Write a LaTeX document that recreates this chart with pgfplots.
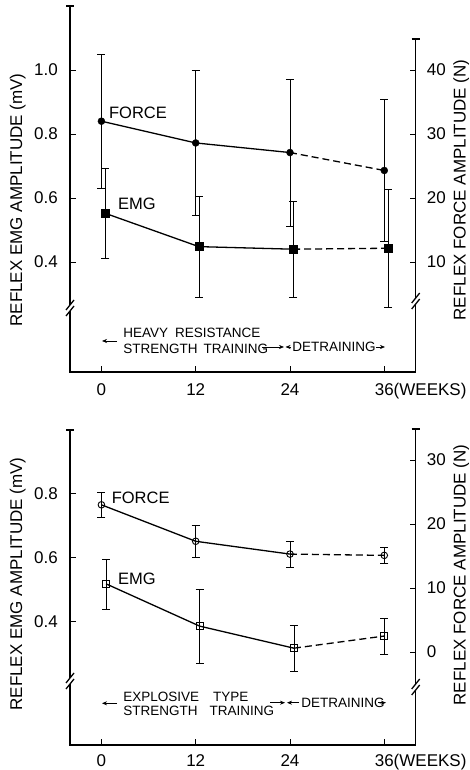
\documentclass[border=0pt]{standalone}
\usepackage{fontspec}
\setmainfont{Liberation Sans}
\usepackage{pgfplots}
\usepackage{pgfplotstable}
\pgfplotsset{compat=1.18}
\usetikzlibrary{arrows.meta}

% top: heavy resistance training
\pgfplotstableread{
wk   val   err
0    32.0  10.5
12   28.6  11.3
24   27.1  11.5
36   24.3  11.1
}\topforce
\pgfplotstableread{
wk   val    err
0.5  0.552  0.140
12.4 0.448  0.157
24.4 0.440  0.150
36.5 0.443  0.185
}\topemg
% bottom: explosive type training
\pgfplotstableread{
wk   val   err
0    23.0  2.0
12   17.3  2.5
24   15.3  2.0
36   15.1  1.3
}\botforce
\pgfplotstableread{
wk   val    err
0.6  0.517  0.078
12.5 0.385  0.116
24.5 0.316  0.073
36   0.354  0.056
}\botemg

\newcommand\bigtxt{\fontsize{17}{20}\selectfont}
\newcommand\smalltxt{\fontsize{13.5}{16}\selectfont}

\pgfplotsset{
  panel/.style={scale only axis, width=345.7pt, xmin=-4, xmax=40,
    anchor=south west,
    axis line style={draw=none}, tick align=inside, major tick length=6pt,
    tick style={line width=0.9pt, black}, ticklabel style={font=\bigtxt}, clip=false},
  leftax/.style={panel, axis x line*=bottom, axis y line*=left,
    xtick={0,12,24,36}, xticklabels={0,12,24,{36\rlap{(WEEKS)}}},
    xticklabel style={anchor=north, inner sep=0pt, yshift=-11pt},
    yticklabel style={anchor=east, inner sep=0pt, xshift=-12pt}},
  rightax/.style={panel, axis x line=none, axis y line*=right,
    yticklabel style={anchor=west, inner sep=0pt, xshift=11pt}},
  ebar/.style={error bars/.cd, y dir=both, y explicit,
    error bar style={line width=0.6pt},
    error mark options={rotate=90, mark size=4pt, line width=0.6pt}},
  solidpart/.style={black, line width=1.3pt, no marks, skip coords between index={3}{4}},
  dashpart/.style={black, line width=1.3pt, no marks, dash pattern=on 7pt off 4pt,
    skip coords between index={0}{2}},
}

\begin{document}
\begin{tikzpicture}
\path[use as bounding box] (0pt,0pt) rectangle (469pt,770pt);

% ---------- top panel ----------
\begin{axis}[leftax, at={(70pt,398pt)}, height=366pt,
  ymin=0.05625, ymax=1.2, ytick={0.4,0.6,0.8,1.0}, yticklabels={0.4,0.6,0.8,1.0}]
\addplot[solidpart] table[x=wk,y=val] {\topemg};
\addplot[dashpart] table[x=wk,y=val] {\topemg};
\addplot[black, only marks, mark=square*, mark size=4pt, ebar]
  table[x=wk, y=val, y error=err] {\topemg};
\end{axis}
\begin{axis}[rightax, at={(70pt,398pt)}, height=366pt,
  ymin=-7.1875, ymax=50, ytick={10,20,30,40}, yticklabels={10,20,30,40}]
\addplot[solidpart] table[x=wk,y=val] {\topforce};
\addplot[dashpart] table[x=wk,y=val] {\topforce};
\addplot[black, only marks, mark=*, mark size=3.5pt, ebar]
  table[x=wk, y=val, y error=err] {\topforce};
\end{axis}

% ---------- bottom panel ----------
\begin{axis}[leftax, at={(70pt,25pt)}, height=315pt,
  xticklabel style={yshift=2pt},
  ymin=0.0134, ymax=0.998, ytick={0.4,0.6,0.8}, yticklabels={0.4,0.6,0.8}]
\addplot[solidpart] table[x=wk,y=val] {\botemg};
\addplot[dashpart] table[x=wk,y=val] {\botemg};
\addplot[black, only marks, mark=square, mark size=3.6pt,
  mark options={fill=white, line width=0.9pt}, ebar]
  table[x=wk, y=val, y error=err] {\botemg};
\end{axis}
\begin{axis}[rightax, at={(70pt,25pt)}, height=315pt,
  ymin=-14.53, ymax=34.69, ytick={0,10,20,30}, yticklabels={0,10,20,30}]
\addplot[solidpart] table[x=wk,y=val] {\botforce};
\addplot[dashpart] table[x=wk,y=val] {\botforce};
\addplot[black, only marks, mark=o, mark size=3.3pt,
  mark options={fill=white, line width=0.9pt}, ebar]
  table[x=wk, y=val, y error=err] {\botforce};
\end{axis}

\begin{scope}[x=1pt, y=1pt]
% ---------- axis lines with breaks ----------
\begin{scope}[line width=1.3pt]
  % top left
  \draw (66,764) -- (74,764);
  \draw (70,764) -- (70,465);
  \draw (70,459) -- (70,398) -- (415.7,398);
  \draw (66,460) -- (74,470); \draw (66,454) -- (74,464);
  % top right
  \draw (411.7,731) -- (419.7,731);
  \draw (415.7,731) -- (415.7,472);
  \draw (415.7,466) -- (415.7,398);
  \draw (411.7,467) -- (419.7,477); \draw (411.7,461) -- (419.7,471);
  % bottom left
  \draw (66,340) -- (74,340);
  \draw (70,340) -- (70,92);
  \draw (70,86) -- (70,25) -- (415.7,25);
  \draw (66,87) -- (74,97); \draw (66,81) -- (74,91);
  % bottom right
  \draw (411.7,341) -- (419.7,341);
  \draw (415.7,341) -- (415.7,86);
  \draw (415.7,80) -- (415.7,25);
  \draw (411.7,81) -- (419.7,91); \draw (411.7,75) -- (419.7,85);
\end{scope}

% ---------- axis titles ----------
\node[rotate=90, anchor=base, font=\bigtxt] at (22,570) {REFLEX EMG AMPLITUDE (mV)};
\node[rotate=90, anchor=base, font=\bigtxt] at (465.5,580) {REFLEX FORCE AMPLITUDE (N)};
\node[rotate=90, anchor=base, font=\bigtxt] at (22,186) {REFLEX EMG AMPLITUDE (mV)};
\node[rotate=90, anchor=base, font=\bigtxt] at (465.5,195) {REFLEX FORCE AMPLITUDE (N)};

% ---------- series labels ----------
\node[inner sep=0pt, font=\fontsize{16.5}{19}\selectfont] at (138,657.5) {FORCE};
\node[inner sep=0pt, font=\fontsize{16.5}{19}\selectfont] at (137,566) {EMG};
\node[inner sep=0pt, font=\fontsize{16.5}{19}\selectfont] at (140.7,272.5) {FORCE};
\node[inner sep=0pt, font=\fontsize{16.5}{19}\selectfont] at (137,191) {EMG};

% ---------- period annotations ----------
\begin{scope}[line width=0.6pt, >={Stealth[length=5pt,width=4pt]}]
  % top
  \draw[->] (117,429) -- (102,429);
  \node[anchor=west, inner sep=0pt, font=\smalltxt] at (123,437) {HEAVY\hspace{7pt}RESISTANCE};
  \node[anchor=west, inner sep=0pt, font=\smalltxt] at (123,421) {STRENGTH\hspace{6pt}TRAINING};
  \draw[->] (262,423) -- (284,423);
  \draw[->] (291,423) -- (285.5,423);
  \node[anchor=west, inner sep=0pt, font=\smalltxt] at (292,423) {DETRAINING};
  \draw[->] (376,423) -- (385,423);
  % bottom
  \draw[->] (117,66.7) -- (102,66.7);
  \node[anchor=west, inner sep=0pt, font=\smalltxt] at (123,73.5) {EXPLOSIVE\hspace{14pt}TYPE};
  \node[anchor=west, inner sep=0pt, font=\smalltxt] at (123,58.7) {STRENGTH\hspace{12pt}TRAINING};
  \draw[->] (270,67.3) -- (285,67.3);
  \draw[->] (299,67.3) -- (287,67.3);
  \node[anchor=west, inner sep=0pt, font=\smalltxt] at (301,67.3) {DETRAINING};
  \draw[->] (378,67.3) -- (386,67.3);
\end{scope}
\end{scope}
\end{tikzpicture}
\end{document}
